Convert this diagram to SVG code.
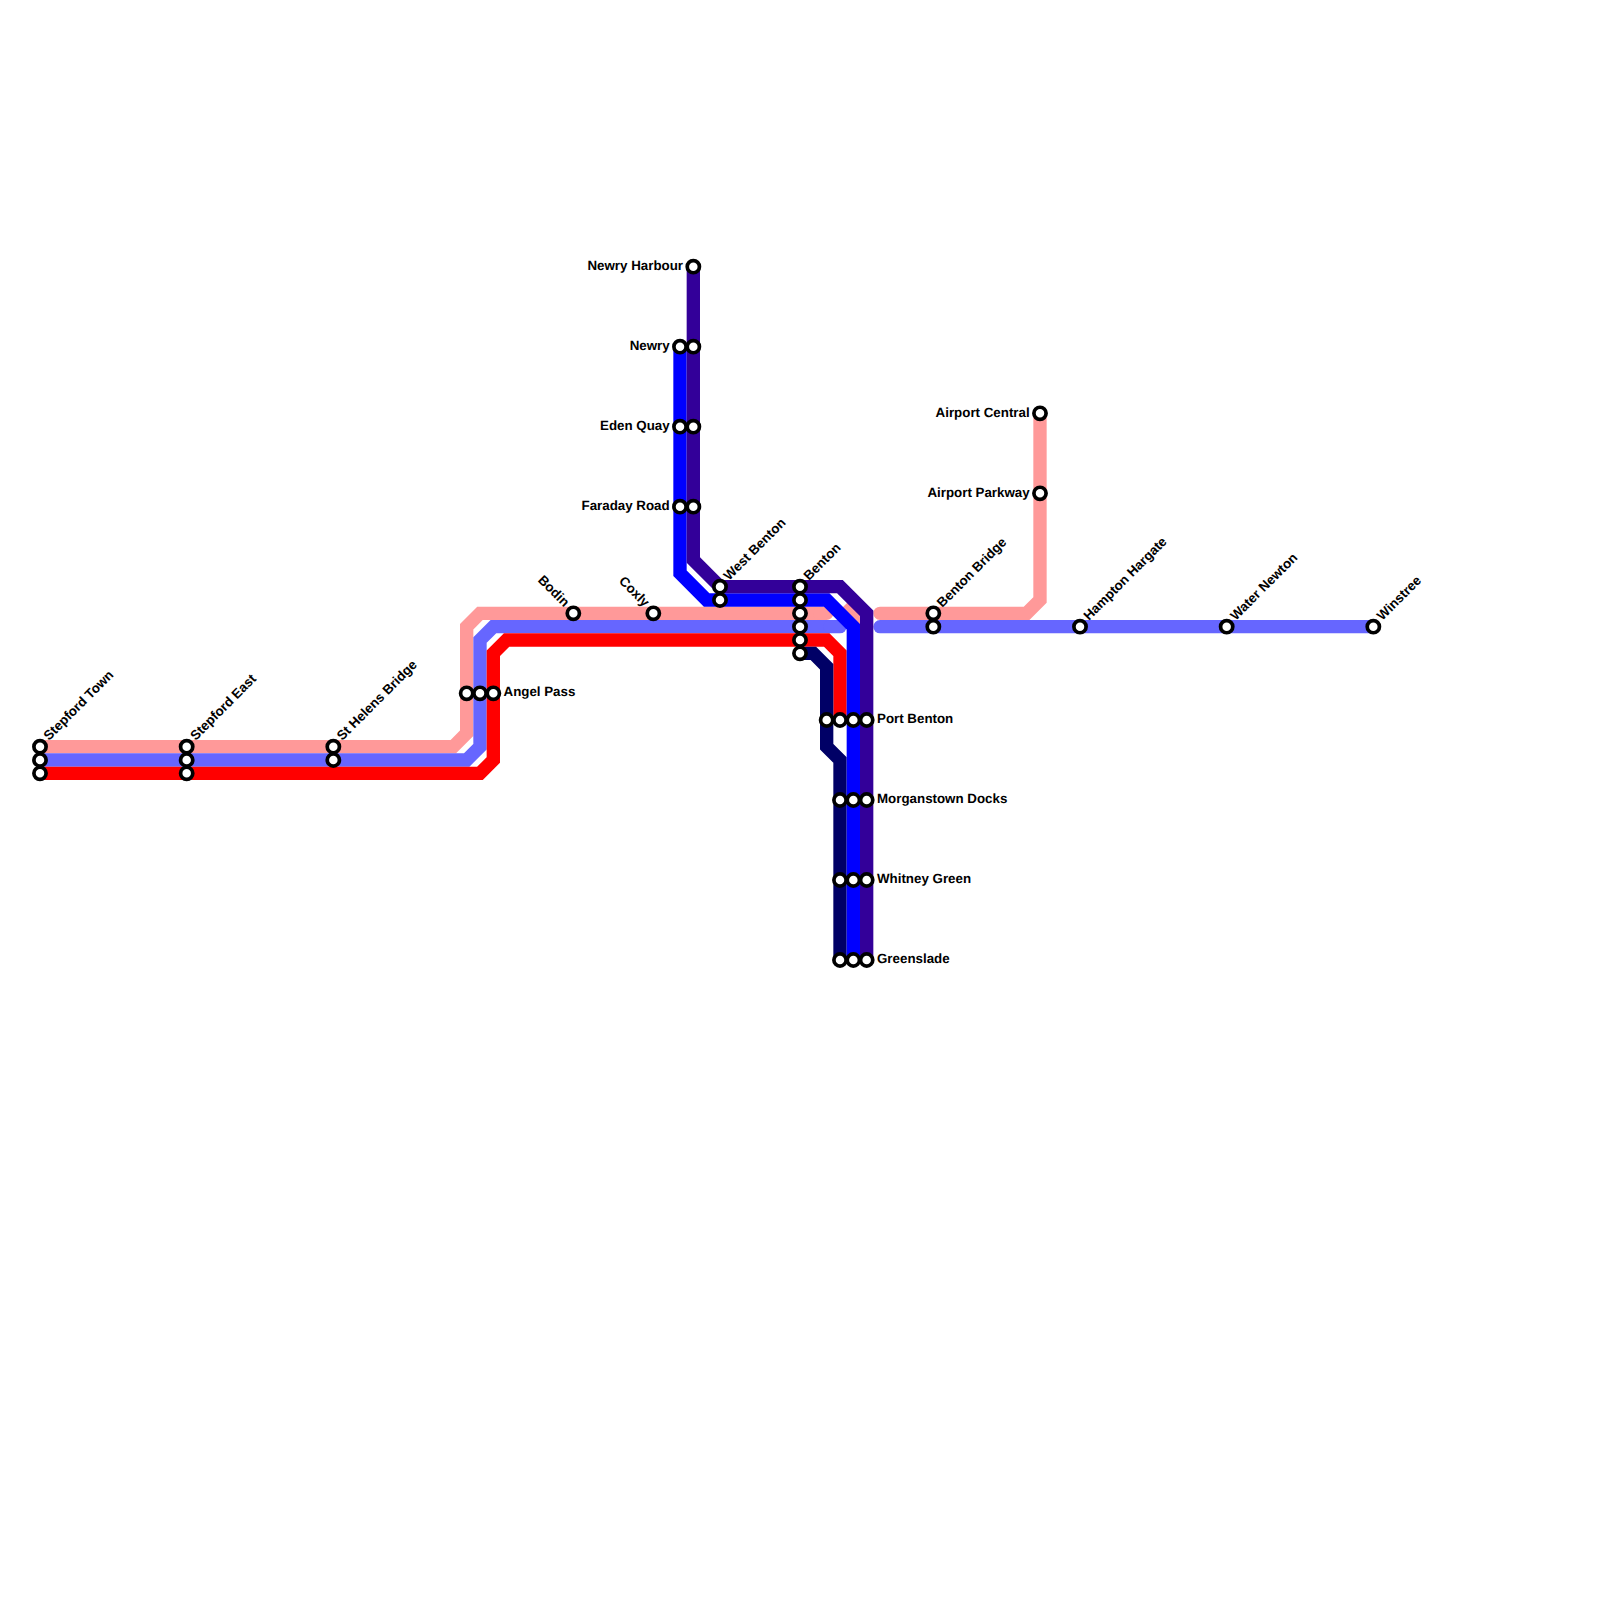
<svg xmlns="http://www.w3.org/2000/svg" width="1600" height="1600" viewBox="0 0 1600 1600">
<style>
.l{fill:none;stroke-width:13.33;stroke-linejoin:miter}
.r{stroke-linecap:round}
.pink{stroke:#ff9999}.peri{stroke:#6666ff}.red{stroke:#ff0000}.blue{stroke:#0000ff}.purple{stroke:#330099}.navy{stroke:#000066}
.s circle{fill:#fff;stroke:#000;stroke-width:3.7}
text{font-family:"Liberation Sans",Arial,sans-serif;font-weight:bold;font-size:13.33px;fill:#000;text-rendering:geometricPrecision}
.e{text-anchor:end}
</style>
<rect width="1600" height="1600" fill="#fff"/>
<g id="connectors">
<path class="l pink r" d="M880 613.33H1026.67L1040 600V413.33"/>
<path class="l pink" d="M845 605L866.67 626.67"/>
<path class="l peri r" d="M880 626.67H1373.33"/>
<path class="l pink" d="M40 746.67H453.33L466.67 733.33V626.67L480 613.33H820"/>
<path class="l pink r" d="M820 613.33H826.67"/>
<path class="l peri" d="M40 760H466.67L480 746.67V640L493.33 626.67H830"/>
<path class="l peri r" d="M830 626.67H840"/>
<path class="l red" d="M40 773.33H480L493.33 760V653.33L506.67 640H826.67L840 653.33V720"/>
<path class="l navy" d="M800 653.33H813.33L826.67 666.67V746.67L840 760V960"/>
<path class="l blue" d="M680 346.67V573.33L706.67 600H826.67L853.33 626.67V960"/>
<path class="l purple" d="M693.33 266.67V560L720 586.67H840L866.67 613.33V960"/>
</g>
<g id="stepford-town" class="s"><circle cx="40" cy="746.67" r="6.1"/><circle cx="40" cy="760" r="6.1"/><circle cx="40" cy="773.33" r="6.1"/><text transform="translate(49 741) rotate(-45)">Stepford Town</text></g>
<g id="stepford-east" class="s"><circle cx="186.67" cy="746.67" r="6.1"/><circle cx="186.67" cy="760" r="6.1"/><circle cx="186.67" cy="773.33" r="6.1"/><text transform="translate(195.67 741) rotate(-45)">Stepford East</text></g>
<g id="st-helens-bridge" class="s"><circle cx="333.33" cy="746.67" r="6.1"/><circle cx="333.33" cy="760" r="6.1"/><text transform="translate(342.33 741) rotate(-45)">St Helens Bridge</text></g>
<g id="angel-pass" class="s"><circle cx="466.67" cy="693.33" r="6.1"/><circle cx="480" cy="693.33" r="6.1"/><circle cx="493.33" cy="693.33" r="6.1"/><text x="503.5" y="696.3">Angel Pass</text></g>
<g id="bodin" class="s"><circle cx="573.33" cy="613.33" r="6.1"/><text class="e" transform="translate(564 607.5) rotate(45)">Bodin</text></g>
<g id="coxly" class="s"><circle cx="653.33" cy="613.33" r="6.1"/><text class="e" transform="translate(644 607.5) rotate(45)">Coxly</text></g>
<g id="newry-harbour" class="s"><circle cx="693.33" cy="266.67" r="6.1"/><text class="e" x="683" y="270.3">Newry Harbour</text></g>
<g id="newry" class="s"><circle cx="680" cy="346.67" r="6.1"/><circle cx="693.33" cy="346.67" r="6.1"/><text class="e" x="669.67" y="350.3">Newry</text></g>
<g id="eden-quay" class="s"><circle cx="680" cy="426.67" r="6.1"/><circle cx="693.33" cy="426.67" r="6.1"/><text class="e" x="669.67" y="430.3">Eden Quay</text></g>
<g id="faraday-road" class="s"><circle cx="680" cy="506.67" r="6.1"/><circle cx="693.33" cy="506.67" r="6.1"/><text class="e" x="669.67" y="510.3">Faraday Road</text></g>
<g id="west-benton" class="s"><circle cx="720" cy="586.67" r="6.1"/><circle cx="720" cy="600" r="6.1"/><text transform="translate(729 581) rotate(-45)">West Benton</text></g>
<g id="benton" class="s"><circle cx="800" cy="586.67" r="6.1"/><circle cx="800" cy="600" r="6.1"/><circle cx="800" cy="613.33" r="6.1"/><circle cx="800" cy="626.67" r="6.1"/><circle cx="800" cy="640" r="6.1"/><circle cx="800" cy="653.33" r="6.1"/><text transform="translate(809 581) rotate(-45)">Benton</text></g>
<g id="port-benton" class="s"><circle cx="826.67" cy="720" r="6.1"/><circle cx="840" cy="720" r="6.1"/><circle cx="853.33" cy="720" r="6.1"/><circle cx="866.67" cy="720" r="6.1"/><text x="877" y="723.3">Port Benton</text></g>
<g id="morganstown-docks" class="s"><circle cx="840" cy="800" r="6.1"/><circle cx="853.33" cy="800" r="6.1"/><circle cx="866.67" cy="800" r="6.1"/><text x="877" y="803.3">Morganstown Docks</text></g>
<g id="whitney-green" class="s"><circle cx="840" cy="880" r="6.1"/><circle cx="853.33" cy="880" r="6.1"/><circle cx="866.67" cy="880" r="6.1"/><text x="877" y="883.3">Whitney Green</text></g>
<g id="greenslade" class="s"><circle cx="840" cy="960" r="6.1"/><circle cx="853.33" cy="960" r="6.1"/><circle cx="866.67" cy="960" r="6.1"/><text x="877" y="963.3">Greenslade</text></g>
<g id="airport-central" class="s"><circle cx="1040" cy="413.33" r="6.1"/><text class="e" x="1029.67" y="417">Airport Central</text></g>
<g id="airport-parkway" class="s"><circle cx="1040" cy="493.33" r="6.1"/><text class="e" x="1029.67" y="497">Airport Parkway</text></g>
<g id="benton-bridge" class="s"><circle cx="933.33" cy="613.33" r="6.1"/><circle cx="933.33" cy="626.67" r="6.1"/><text transform="translate(942.33 608) rotate(-45)">Benton Bridge</text></g>
<g id="hampton-hargate" class="s"><circle cx="1080" cy="626.67" r="6.1"/><text transform="translate(1089 621) rotate(-45)">Hampton Hargate</text></g>
<g id="water-newton" class="s"><circle cx="1226.67" cy="626.67" r="6.1"/><text transform="translate(1235.67 621) rotate(-45)">Water Newton</text></g>
<g id="winstree" class="s"><circle cx="1373.33" cy="626.67" r="6.1"/><text transform="translate(1382.33 621) rotate(-45)">Winstree</text></g>
</svg>
